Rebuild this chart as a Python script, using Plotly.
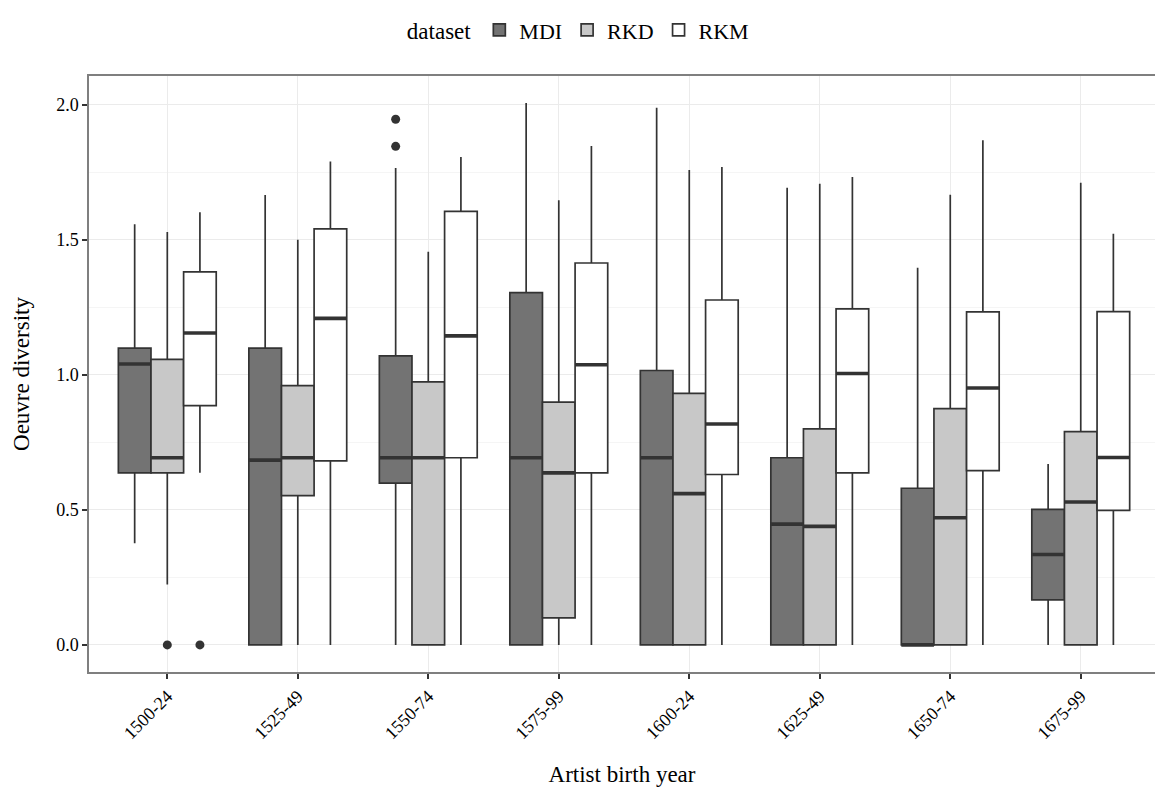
import plotly.graph_objects as go

# Birth-cohort categories on the x axis
cohorts = ["1500-24", "1525-49", "1550-74", "1575-99",
           "1600-24", "1625-49", "1650-74", "1675-99"]

# Box statistics per dataset (lower whisker, Q1, median, Q3, upper whisker)
mdi_lo  = [0.376, 0.0, 0.0, 0.0, 0.0, 0.0, 0.0, 0.0]
mdi_q1  = [0.637, 0.0, 0.599, 0.0, 0.0, 0.0, 0.0, 0.167]
mdi_med = [1.040, 0.684, 0.693, 0.693, 0.693, 0.447, 0.0, 0.335]
mdi_q3  = [1.099, 1.099, 1.070, 1.304, 1.016, 0.693, 0.580, 0.502]
mdi_hi  = [1.557, 1.666, 1.766, 2.006, 1.989, 1.693, 1.396, 0.670]

rkd_lo  = [0.224, 0.0, 0.0, 0.0, 0.0, 0.0, 0.0, 0.0]
rkd_q1  = [0.637, 0.553, 0.0, 0.100, 0.0, 0.0, 0.0, 0.0]
rkd_med = [0.693, 0.693, 0.693, 0.637, 0.560, 0.439, 0.471, 0.529]
rkd_q3  = [1.057, 0.960, 0.974, 0.899, 0.931, 0.800, 0.875, 0.790]
rkd_hi  = [1.529, 1.500, 1.456, 1.646, 1.758, 1.707, 1.667, 1.711]

rkm_lo  = [0.637, 0.0, 0.0, 0.0, 0.0, 0.0, 0.0, 0.0]
rkm_q1  = [0.886, 0.681, 0.693, 0.637, 0.631, 0.637, 0.645, 0.498]
rkm_med = [1.155, 1.209, 1.144, 1.037, 0.818, 1.005, 0.951, 0.694]
rkm_q3  = [1.381, 1.540, 1.605, 1.414, 1.277, 1.244, 1.233, 1.234]
rkm_hi  = [1.602, 1.790, 1.806, 1.847, 1.769, 1.732, 1.868, 1.522]

# Outlying points: (cohort, value)
mdi_out = [("1550-74", 1.946), ("1550-74", 1.846)]
rkd_out = [("1500-24", 0.0)]
rkm_out = [("1500-24", 0.0)]

FONT = "Liberation Serif"
EDGE = "#333333"
BOX_W = 0.25

datasets = [
    ("MDI", "#737373", -BOX_W, mdi_lo, mdi_q1, mdi_med, mdi_q3, mdi_hi, mdi_out),
    ("RKD", "#c8c8c8", 0.0, rkd_lo, rkd_q1, rkd_med, rkd_q3, rkd_hi, rkd_out),
    ("RKM", "#ffffff", BOX_W, rkm_lo, rkm_q1, rkm_med, rkm_q3, rkm_hi, rkm_out),
]

fig = go.Figure()
for name, fill, off, lo, q1, med, q3, hi, outs in datasets:
    xs = [i + off for i in range(len(cohorts))]
    fig.add_trace(go.Box(
        name=name, x=xs, lowerfence=lo, q1=q1, median=med, q3=q3, upperfence=hi,
        width=BOX_W, fillcolor=fill, line=dict(color=EDGE, width=1.7),
        whiskerwidth=0, boxpoints=False, hoverinfo="skip",
        legendgroup=name,
    ))
    # thicker median bars
    mx, my = [], []
    for x, m in zip(xs, med):
        mx += [x - BOX_W / 2, x + BOX_W / 2, None]
        my += [m, m, None]
    fig.add_trace(go.Scatter(
        x=mx, y=my, mode="lines", line=dict(color=EDGE, width=3.6),
        showlegend=False, hoverinfo="skip", legendgroup=name,
    ))
    if outs:
        fig.add_trace(go.Scatter(
            x=[cohorts.index(c) + off for c, _ in outs], y=[v for _, v in outs],
            mode="markers", marker=dict(color=EDGE, size=9),
            showlegend=False, hoverinfo="skip", legendgroup=name,
        ))

fig.update_layout(
    width=1155, height=795,
    margin=dict(l=89, r=0, t=76, b=123),
    paper_bgcolor="white", plot_bgcolor="white",
    font=dict(family=FONT, color="black"),
    showlegend=True,
    legend=dict(
        orientation="h", x=0.46, xanchor="center", y=1.077, yanchor="middle",
        title=dict(text="dataset", font=dict(size=23, family=FONT), side="left"),
        font=dict(size=22, family=FONT), itemwidth=30, tracegroupgap=0,
    ),
    xaxis=dict(
        range=[-0.6, 7.569], tickmode="array",
        tickvals=list(range(len(cohorts))), ticktext=cohorts,
        tickangle=-45, tickfont=dict(size=18, family=FONT, color="black"),
        ticks="outside", ticklen=5, tickcolor="#333333", tickwidth=1.5,
        showgrid=True, gridcolor="#ebebeb", gridwidth=1,
        showline=True, linecolor="#7f7f7f", linewidth=1.5, mirror=True,
        zeroline=False,
        title=dict(text="Artist birth year", font=dict(size=23, family=FONT), standoff=24),
    ),
    yaxis=dict(
        range=[-0.1003, 2.1063], tickmode="array",
        tickvals=[0, 0.5, 1.0, 1.5, 2.0], tickformat=".1f",
        tickfont=dict(size=18, family=FONT, color="black"),
        ticks="outside", ticklen=5, tickcolor="#333333", tickwidth=1.5,
        showgrid=True, gridcolor="#ebebeb", gridwidth=1,
        minor=dict(tickvals=[0.25, 0.75, 1.25, 1.75], showgrid=True,
                   gridcolor="#f5f5f5", gridwidth=1, ticks=""),
        showline=True, linecolor="#7f7f7f", linewidth=1.5, mirror=False,
        zeroline=False,
        title=dict(text="Oeuvre diversity", font=dict(size=23, family=FONT), standoff=20),
    ),
)

fig.write_html("out.html")
